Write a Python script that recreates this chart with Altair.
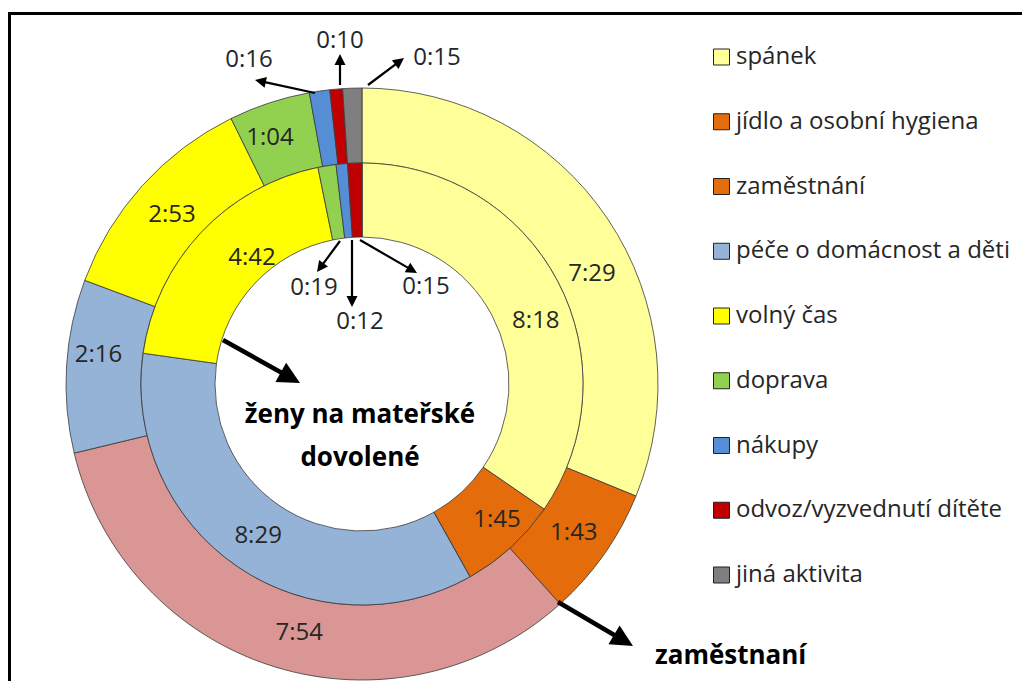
import math
import altair as alt
import pandas as pd

# ---------------- data ----------------
categories = [
    "spánek",
    "jídlo a osobní hygiena",
    "zaměstnání",
    "péče o domácnost a děti",
    "volný čas",
    "doprava",
    "nákupy",
    "odvoz/vyzvednutí dítěte",
    "jiná aktivita",
]
# outer ring: zaměstnaní
outer_times = ["7:29", "1:43", "7:54", "2:16", "2:53", "1:04", "0:16", "0:10", "0:15"]
# inner ring: ženy na mateřské dovolené
inner_times = ["8:18", "1:45", "0:00", "8:29", "4:42", "0:19", "0:12", "0:15", "0:00"]

slice_colors = ["#FFFF99", "#E46C0A", "#D99694", "#95B3D7", "#FFFF00",
                "#92D050", "#558ED5", "#C00000", "#7F7F7F"]
legend_colors = ["#FFFF99", "#E46C0A", "#E46C0A", "#95B3D7", "#FFFF00",
                 "#92D050", "#558ED5", "#C00000", "#7F7F7F"]

outer_name = "zaměstnaní"
inner_name = ["ženy na mateřské", "dovolené"]

FONT = "Open Sans"
TXT = "#262626"

# ---------------- geometry (pixels, plot coords = page - 8) ----------------
CX, CY = 354, 376
R_OUT, R_MID, R_IN = 296, 221, 147
LAB_OUT, LAB_IN = 259, 184
# manual nudges of in-slice labels (as placed in the original)
label_nudge = {
    ("outer", 0): (15, 34), ("outer", 2): (14, 2), ("outer", 3): (-5, -13),
    ("outer", 4): (2, 5), ("outer", 5): (-11, 0),
    ("inner", 0): (11, 23), ("inner", 1): (11, 0), ("inner", 4): (24, 0),
}


def to_min(s):
    h, m = s.split(":")
    return int(h) * 60 + int(m)


rows = []
for rname, times in (("outer", outer_times), ("inner", inner_times)):
    for i, c in enumerate(categories):
        nx, ny = label_nudge.get((rname, i), (0, 0))
        rows.append(dict(ring=rname, cat=c, idx=i, minutes=to_min(times[i]),
                         label=times[i], color=slice_colors[i], nx=nx, ny=ny))
df = pd.DataFrame(rows)
DAY = 24 * 60
theta_scale = alt.Scale(domain=[0, DAY], range=[0, 2 * math.pi])


def ring(name, r0, r1, lr):
    base = alt.Chart(df).transform_filter(alt.datum.ring == name)
    arc = base.mark_arc(radius=r1, radius2=r0, stroke="#3a3a3a", strokeWidth=0.8).encode(
        theta=alt.Theta("minutes:Q", stack=True, scale=theta_scale),
        order=alt.Order("idx:Q", sort="ascending"),
        color=alt.Color("color:N", scale=None),
        x=alt.value(CX), y=alt.value(CY),
    )
    txt = base.transform_window(
        cum="sum(minutes)", sort=[alt.SortField("idx", order="ascending")], frame=[None, 0]
    ).transform_calculate(
        mid="datum.cum - datum.minutes / 2",
        lab="datum.minutes >= 60 ? datum.label : ''",
    ).mark_text(radius=lr, fontSize=24, font=FONT, color=TXT).encode(
        theta=alt.Theta("mid:Q", stack=None, scale=theta_scale),
        text="lab:N",
        x=alt.value(CX), y=alt.value(CY),
        xOffset=alt.XOffset("nx:Q", scale=None),
        yOffset=alt.YOffset("ny:Q", scale=None),
    )
    return arc, txt


outer_arc, outer_txt = ring("outer", R_MID, R_OUT, LAB_OUT)
inner_arc, inner_txt = ring("inner", R_IN, R_MID, LAB_IN)

# ---------------- small-slice call-outs ----------------
# (ring, category index, label pos, arrow start, arrow tip, line width)
callouts = [
    ("outer", 6, (241, 52), (307, 85), (247, 72), 2.2),
    ("outer", 7, (332, 33), (332, 77), (332, 46), 2.2),
    ("outer", 8, (429, 50), (360, 77), (396, 50), 2.2),
    ("inner", 5, (306, 280), (332, 233), (309, 264), 2.2),
    ("inner", 6, (352, 314), (344, 232), (344, 299), 2.2),
    ("inner", 7, (418, 279), (352, 232), (409, 265), 2.2),
]
big_arrows = [
    ((215, 332), (292, 375), 4.5),
    ((550, 594), (625, 638), 4.5),
]

lab_rows, arrow_rows = [], []
for rname, i, lp, s, t, w in callouts:
    times = outer_times if rname == "outer" else inner_times
    lab_rows.append(dict(x=lp[0], y=lp[1], text=times[i]))
    arrow_rows.append(dict(x0=s[0], y0=s[1], xt=t[0], yt=t[1], w=w, head=11))
for s, t, w in big_arrows:
    arrow_rows.append(dict(x0=s[0], y0=s[1], xt=t[0], yt=t[1], w=w, head=22))

arr = pd.DataFrame(arrow_rows)
ddx = arr["xt"] - arr["x0"]
ddy = arr["yt"] - arr["y0"]
L = (ddx ** 2 + ddy ** 2) ** 0.5
arr["xe"] = arr["xt"] - ddx / L * arr["head"] * 0.7
arr["ye"] = arr["yt"] - ddy / L * arr["head"] * 0.7
arr["ang"] = [(math.degrees(math.atan2(a, -b)) + 360) % 360 for a, b in zip(ddx, ddy)]
arr["sz"] = (arr["head"] * 2) ** 2

shafts = alt.Chart(arr).mark_rule(color="black").encode(
    x=alt.X("x0:Q", scale=None), y=alt.Y("y0:Q", scale=None),
    x2="xe:Q", y2="ye:Q",
    strokeWidth=alt.StrokeWidth("w:Q", scale=None),
)
heads = alt.Chart(arr).mark_point(
    shape="M0,0L-0.5,1L0.5,1Z", filled=True, color="black", opacity=1
).encode(
    x=alt.X("xt:Q", scale=None), y=alt.Y("yt:Q", scale=None),
    angle=alt.Angle("ang:Q", scale=None),
    size=alt.Size("sz:Q", scale=None),
)
small_labels = alt.Chart(pd.DataFrame(lab_rows)).mark_text(
    fontSize=24, font=FONT, color=TXT
).encode(x=alt.X("x:Q", scale=None), y=alt.Y("y:Q", scale=None), text="text:N")

# ---------------- ring titles ----------------
one = pd.DataFrame({"a": [0]})
inner_title = alt.Chart(one).mark_text(
    text=inner_name, fontSize=26, font=FONT, fontWeight="bold", color="black",
    lineHeight=43, baseline="middle"
).encode(x=alt.value(352), y=alt.value(407))
outer_title = alt.Chart(one).mark_text(
    text=outer_name, fontSize=26, font=FONT, fontWeight="bold", color="black",
    align="left", baseline="middle"
).encode(x=alt.value(647), y=alt.value(648))

# ---------------- legend ----------------
leg = pd.DataFrame({"cat": categories, "color": legend_colors})
leg_y = alt.Y("cat:N", sort=categories, axis=None,
              scale=alt.Scale(range=[49, 567], padding=0))
leg_sq = alt.Chart(leg).mark_square(size=256, opacity=1, stroke="#222", strokeWidth=1).encode(
    x=alt.value(713.5), y=leg_y, fill=alt.Fill("color:N", scale=None))
leg_txt = alt.Chart(leg).mark_text(
    align="left", baseline="middle", fontSize=24, font=FONT, color=TXT
).encode(x=alt.value(728), y=leg_y, text="cat:N")

# ---------------- frame ----------------
frame = alt.Chart(one).mark_rect(filled=False, stroke="black", strokeWidth=3).encode(
    x=alt.value(1.5), x2=alt.value(1400), y=alt.value(5.5), y2=alt.value(1000))

chart = alt.layer(
    frame, outer_arc, inner_arc, outer_txt, inner_txt,
    shafts, heads, small_labels, inner_title, outer_title, leg_sq, leg_txt,
).resolve_scale(x="independent", y="independent").properties(
    width=1014, height=673, autosize="none", padding=0
).configure_view(stroke=None)

chart.save("out.html", embed_options={"renderer": "svg", "actions": False})
